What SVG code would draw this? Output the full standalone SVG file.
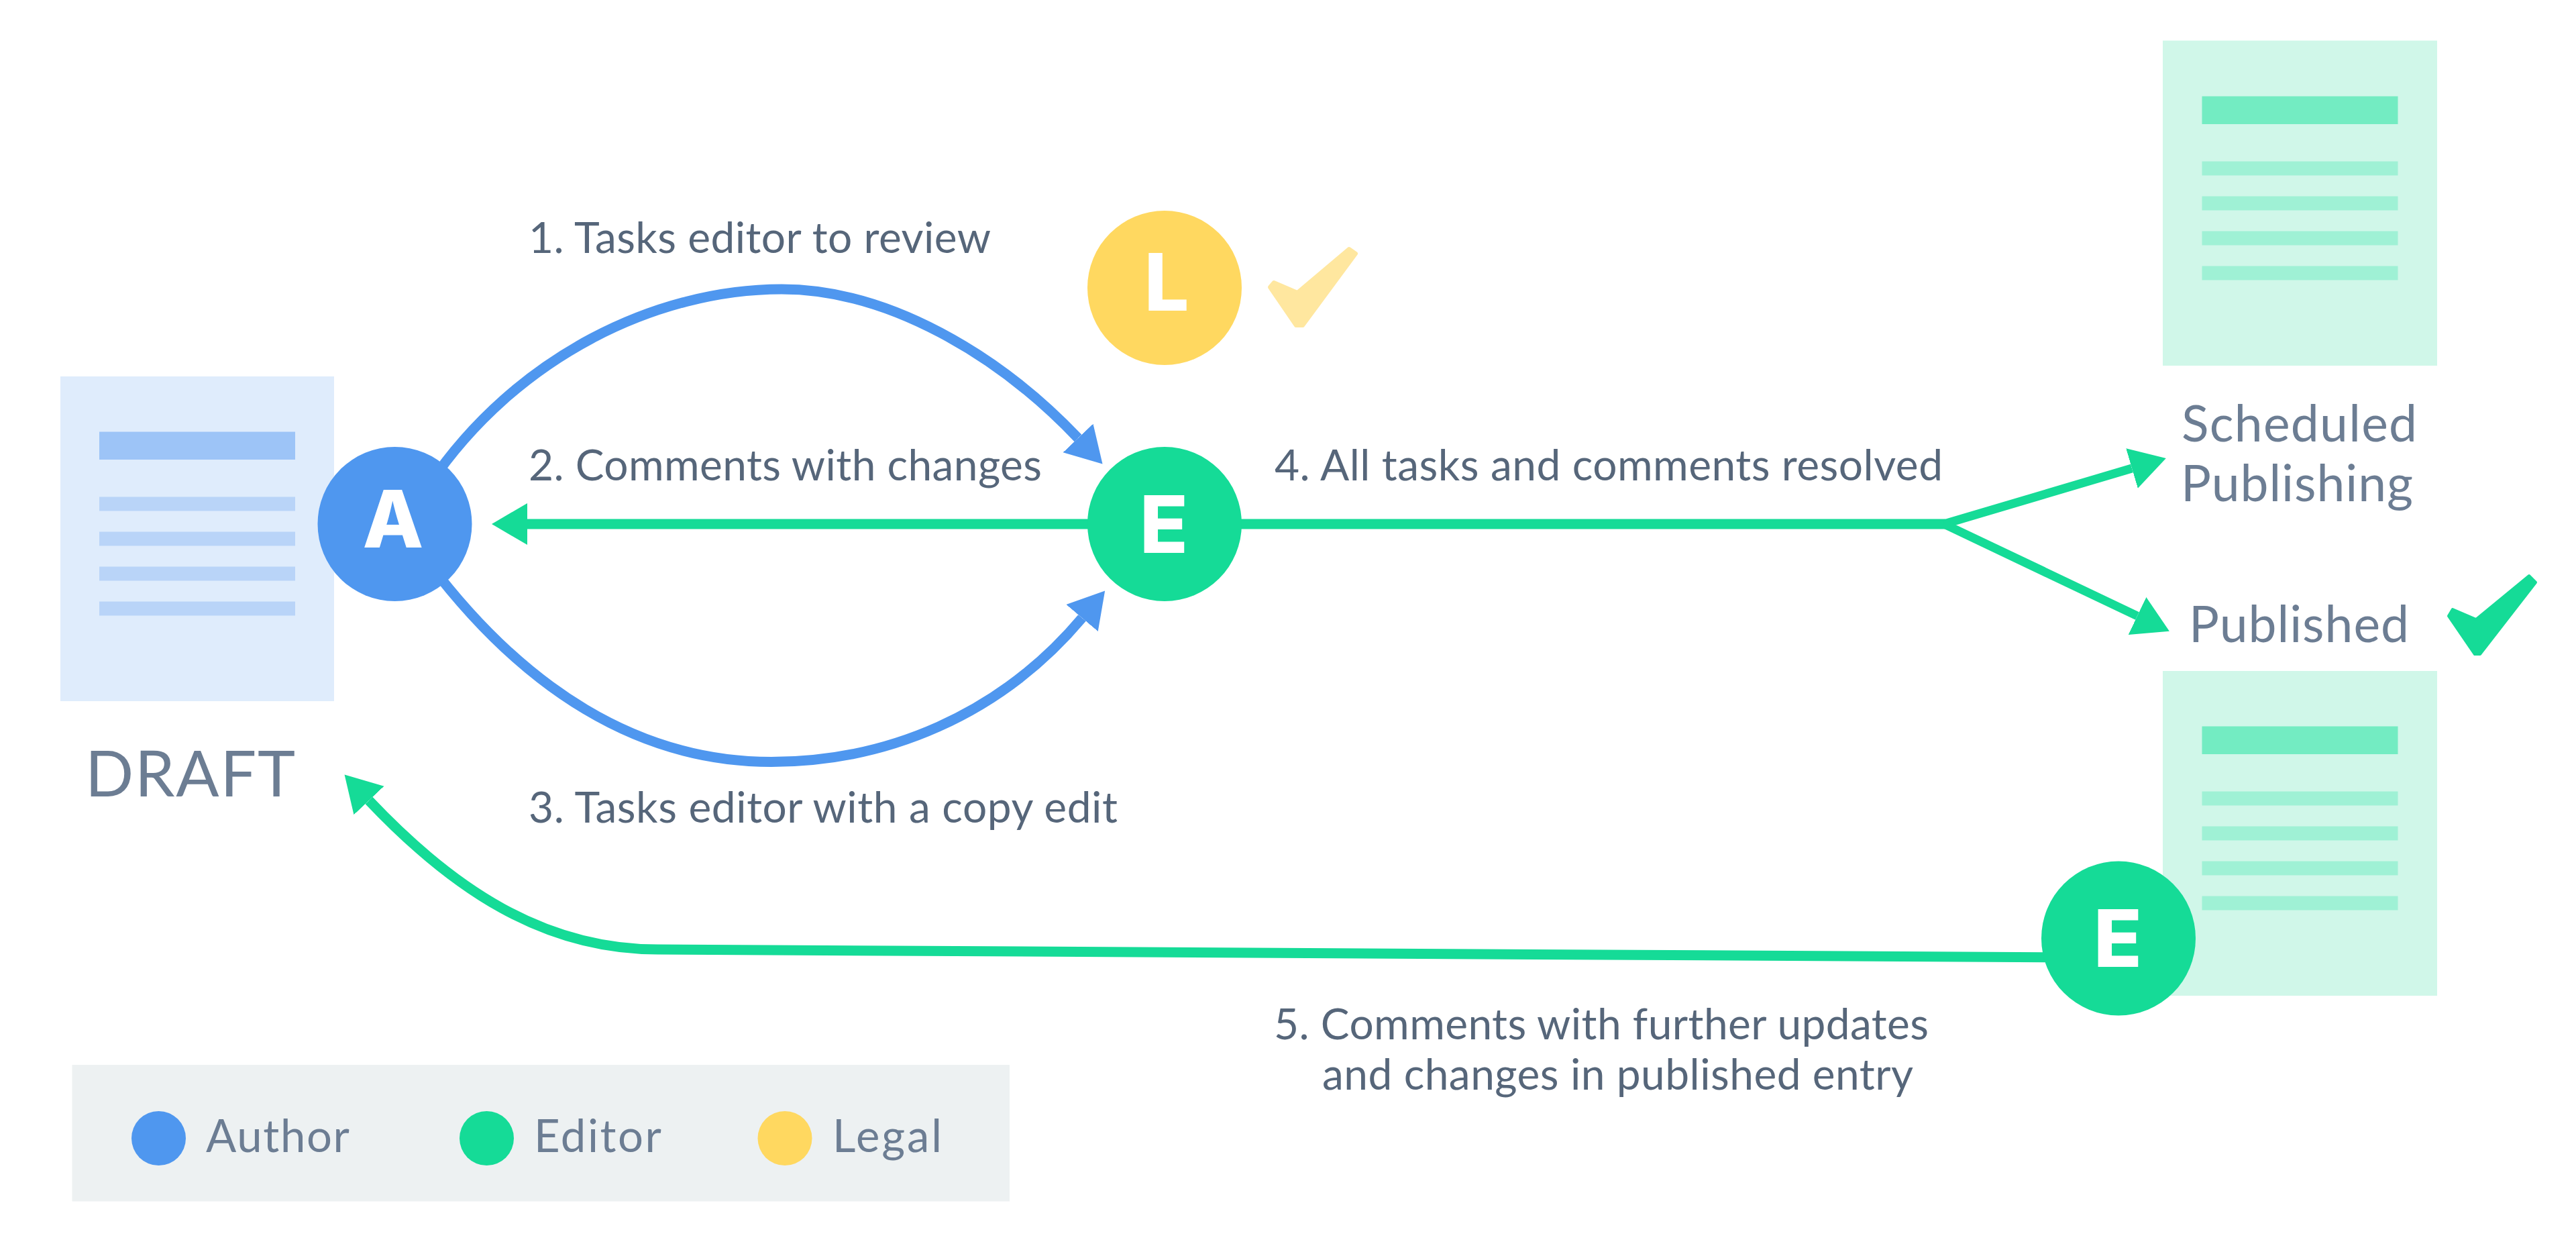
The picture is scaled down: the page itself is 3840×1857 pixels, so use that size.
<svg xmlns="http://www.w3.org/2000/svg" width="3840" height="1857" viewBox="0 0 3840 1857">
<defs>
<style>
.lbl{font-family:"Lato","Liberation Sans",sans-serif;font-size:64px;fill:#56667A}
.cap{font-family:"Lato","Liberation Sans",sans-serif;fill:#6C7D93}
.big{font-size:75px}
.leg{font-size:67px}
.ini{font-family:"Inter","Liberation Sans",sans-serif;font-weight:800;font-size:118px;fill:#fff;text-anchor:middle}
.b{fill:none;stroke:#4F97EF;stroke-width:15}
.g{fill:none;stroke:#15DB97;stroke-width:15}
</style>
<marker id="hb" markerUnits="userSpaceOnUse" markerWidth="54" markerHeight="64" refX="0" refY="31" orient="auto"><path d="M0 0L53 31L0 62Z" fill="#4F97EF"/></marker>
<marker id="hg" markerUnits="userSpaceOnUse" markerWidth="54" markerHeight="64" refX="0" refY="31" orient="auto"><path d="M0 0L53 31L0 62Z" fill="#15DB97"/></marker>
</defs>
<rect width="3840" height="1857" fill="#fff"/>
<g id="doc-draft">
<rect x="90" y="561" width="408" height="484" fill="#DFECFC"/>
<rect x="148" y="643.5" width="292" height="41.5" fill="#9DC4F7"/>
<g fill="#B9D4F8"><rect x="148" y="740.5" width="292" height="21"/><rect x="148" y="792.5" width="292" height="21"/><rect x="148" y="844.5" width="292" height="21"/><rect x="148" y="896.5" width="292" height="21"/></g>
<text class="cap" x="127" y="1186.5" font-size="95" textLength="313">DRAFT</text>
</g>
<g id="doc-scheduled">
<rect x="3224" y="60.5" width="409" height="484.5" fill="#D0F7E9"/>
<rect x="3282.5" y="143.5" width="292" height="41.5" fill="#73ECC2"/>
<g fill="#9FF1D5"><rect x="3282.5" y="240.5" width="292" height="21"/><rect x="3282.5" y="292.5" width="292" height="21"/><rect x="3282.5" y="344.5" width="292" height="21"/><rect x="3282.5" y="396.5" width="292" height="21"/></g>
<text class="cap big" x="3252" y="657.5" textLength="351">Scheduled</text>
<text class="cap big" x="3251" y="747" textLength="346">Publishing</text>
</g>
<g id="doc-published">
<rect x="3224" y="1000" width="409" height="484" fill="#D0F7E9"/>
<rect x="3282.5" y="1082.5" width="292" height="41.5" fill="#73ECC2"/>
<g fill="#9FF1D5"><rect x="3282.5" y="1179.5" width="292" height="21"/><rect x="3282.5" y="1231.5" width="292" height="21"/><rect x="3282.5" y="1283.5" width="292" height="21"/><rect x="3282.5" y="1335.5" width="292" height="21"/></g>
<text class="cap big" x="3263" y="956.5" textLength="328">Published</text>
<path d="M3650 918L3656 908L3691 923L3770 858L3780 868L3697 975L3689 975Z" fill="#15DB97" stroke="#15DB97" stroke-width="4" stroke-linejoin="round"/>
</g>
<g id="connectors">
<path class="b" marker-end="url(#hb)" d="M640 722C770 530 980 431 1165 431C1325 431 1490 530 1607 653"/>
<path class="b" marker-end="url(#hb)" d="M640 840C780 1025 950 1135.5 1150 1135.5C1320 1135.5 1490 1067 1613 921"/>
<path class="g" marker-end="url(#hg)" d="M1650 781H786"/>
<path class="g" d="M1800 781H2900"/>
<path class="g" style="stroke-width:13" marker-end="url(#hg)" d="M2898 781L3178 698"/>
<path class="g" style="stroke-width:13" marker-end="url(#hg)" d="M2898 781L3186 918"/>
<path class="g" marker-end="url(#hg)" d="M3100 1427L980 1415C810 1415 675 1325 550 1193"/>
</g>
<g id="node-legal"><circle cx="1736" cy="429" r="115" fill="#FFD860"/><text class="ini" x="1739" y="462.5">L</text>
<path d="M1893 428L1899 421L1934 436L2011 371L2021 378L1942 485L1932 485Z" fill="#FFE79F" stroke="#FFE79F" stroke-width="6" stroke-linejoin="round"/></g>
<g id="node-editor"><circle cx="1736" cy="781" r="115" fill="#15DB97"/><text class="ini" x="1735" y="823.5">E</text></g>
<g id="node-author"><circle cx="588.5" cy="781" r="115" fill="#4F97EF"/><text class="ini" x="586" y="816">A</text></g>
<g id="node-editor-2"><circle cx="3158" cy="1398.5" r="115" fill="#15DB97"/><text class="ini" x="3157" y="1441">E</text></g>
<g id="labels">
<text class="lbl" x="788" y="377" textLength="689">1. Tasks editor to review</text>
<text class="lbl" x="788" y="716" textLength="765">2. Comments with changes</text>
<text class="lbl" x="788" y="1226" textLength="878">3. Tasks editor with a copy edit</text>
<text class="lbl" x="1900" y="716" textLength="996">4. All tasks and comments resolved</text>
<text class="lbl" x="1899" y="1549" textLength="976">5. Comments with further updates</text>
<text class="lbl" x="1971" y="1624" textLength="881">and changes in published entry</text>
</g>
<g id="legend">
<rect x="107.5" y="1587" width="1397.5" height="203.5" fill="#EDF1F2"/>
<circle cx="236.5" cy="1696.5" r="40.5" fill="#4F97EF"/><text class="cap leg" x="307" y="1717" textLength="214">Author</text>
<circle cx="725.5" cy="1696.5" r="40.5" fill="#15DB97"/><text class="cap leg" x="796" y="1717" textLength="190">Editor</text>
<circle cx="1170" cy="1696.5" r="40.5" fill="#FFD860"/><text class="cap leg" x="1241" y="1717" textLength="163">Legal</text>
</g>
</svg>
